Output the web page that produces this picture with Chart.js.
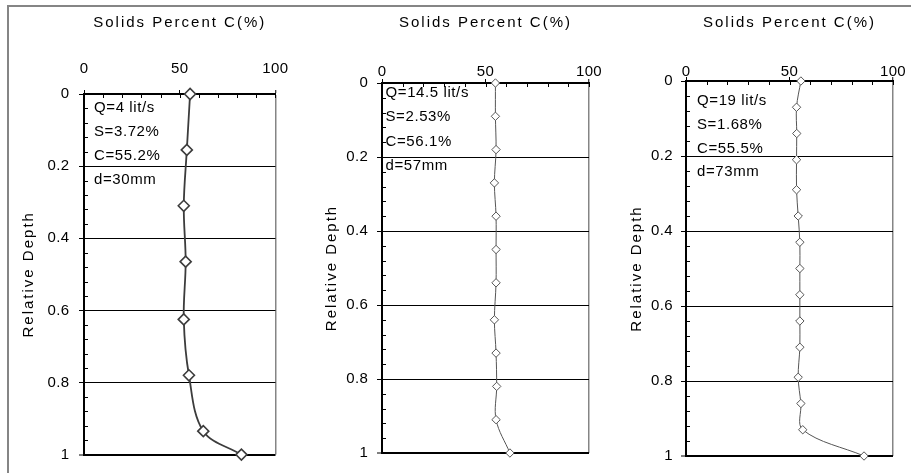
<!DOCTYPE html>
<html>
<head>
<meta charset="utf-8">
<script src="https://cdn.jsdelivr.net/npm/chart.js@4.4.0/dist/chart.umd.min.js"></script>
<style>
html,body{margin:0;padding:0;background:#fff;width:914px;height:473px;overflow:hidden;position:relative}
#frame{position:absolute;left:7px;top:5px;width:904px;height:480px;border-left:2px solid #858585;border-top:2px solid #858585;box-sizing:border-box}
canvas{position:absolute;top:0}
</style>
</head>
<body>
<div id="frame"></div>
<canvas id="c1" width="300" height="473" style="left:0px"></canvas>
<canvas id="c2" width="305" height="473" style="left:300px"></canvas>
<canvas id="c3" width="309" height="473" style="left:605px"></canvas>
<script>
// ---- data ----
const xTitle = 'Solids Percent C(%)';
const yTitle = 'Relative Depth';
const xMajorTicks = [0, 50, 100];
const yMajorTicks = [0, 0.2, 0.4, 0.6, 0.8, 1];

const depth1 = [0, 0.155, 0.31, 0.465, 0.625, 0.78, 0.935, 1.0];
const conc1  = [55.4, 53.7, 52.1, 53.1, 52.1, 54.8, 62.3, 82.2];
const notes1 = ['Q=4 lit/s', 'S=3.72%', 'C=55.2%', 'd=30mm'];

const depth2 = [0, 0.09, 0.18, 0.27, 0.36, 0.45, 0.54, 0.64, 0.73, 0.82, 0.91, 1.0];
const conc2  = [54.8, 54.8, 55.1, 54.3, 55.1, 55.1, 55.1, 54.3, 55.1, 55.4, 55.1, 61.8];
const notes2 = ['Q=14.5 lit/s', 'S=2.53%', 'C=56.1%', 'd=57mm'];

const depth3 = [0, 0.07, 0.14, 0.21, 0.29, 0.36, 0.43, 0.50, 0.57, 0.64, 0.71, 0.79, 0.86, 0.93, 1.0];
const conc3  = [55.5, 53.4, 53.5, 53.4, 53.4, 54.2, 55.0, 55.0, 55.0, 55.0, 55.0, 54.2, 55.5, 56.4, 86.0];
const notes3 = ['Q=19 lit/s', 'S=1.68%', 'C=55.5%', 'd=73mm'];

// ---- styling / helpers ----
const FONT = "'Liberation Sans', Arial, sans-serif";
const FS = 15;
Chart.defaults.font.family = FONT;
Chart.defaults.font.size = FS;
Chart.defaults.color = '#000';

const isIn = (arr, v) => arr.some(a => Math.abs(a - v) < 1e-9);

// letter spacing to mimic the wide original text
const SP = (Chart.Scale || Object.getPrototypeOf(Chart.LinearScale)).prototype;
const _drawTitle = SP.drawTitle, _drawLabels = SP.drawLabels;
SP.drawTitle = function () {
  const c = this.ctx, prev = c.letterSpacing;
  c.letterSpacing = '2px';
  _drawTitle.apply(this, arguments);
  c.letterSpacing = prev;
};
SP.drawLabels = function () {
  const c = this.ctx, prev = c.letterSpacing;
  c.letterSpacing = '0.4px';
  _drawLabels.apply(this, arguments);
  c.letterSpacing = prev;
};

const innerTicks = {
  id: 'innerTicks',
  beforeDatasetsDraw(chart) {
    const {ctx, chartArea, scales: {x, y}} = chart;
    ctx.save();
    ctx.strokeStyle = '#000';
    ctx.lineWidth = 1;
    ctx.beginPath();
    x.ticks.forEach(t => {
      const px = Math.round(x.getPixelForValue(t.value)) + 0.5;
      ctx.moveTo(px, chartArea.top);
      ctx.lineTo(px, chartArea.top + 4);
    });
    y.ticks.forEach(t => {
      const py = Math.round(y.getPixelForValue(t.value)) + 0.5;
      ctx.moveTo(chartArea.left, py);
      ctx.lineTo(chartArea.left + 4, py);
    });
    ctx.stroke();
    ctx.restore();
  }
};

const notesPlugin = {
  id: 'notes',
  afterDatasetsDraw(chart, args, opts) {
    const {ctx, chartArea} = chart;
    ctx.save();
    ctx.font = FS + 'px ' + FONT;
    ctx.fillStyle = '#000';
    ctx.letterSpacing = '0.6px';
    ctx.textBaseline = 'middle';
    ctx.textAlign = 'left';
    (opts.lines || []).forEach((t, i) => {
      ctx.fillText(t, chartArea.left + opts.dx, chartArea.top + opts.dy + i * opts.gap);
    });
    ctx.restore();
  }
};

function makePanel(id, depth, conc, notes, L) {
  const data = depth.map((d, i) => ({x: conc[i], y: d}));
  return new Chart(document.getElementById(id), {
    type: 'scatter',
    data: {
      datasets: [{
        data,
        showLine: true,
        tension: 0.35,
        borderColor: L.line,
        borderWidth: L.lw,
        backgroundColor: '#fff',
        fill: false,
        pointStyle: 'rectRot',
        pointRadius: L.pr,
        pointBorderWidth: L.pbw,
        pointBorderColor: L.line,
        pointBackgroundColor: '#fff',
        clip: false
      }]
    },
    options: {
      responsive: false,
      animation: false,
      devicePixelRatio: 1,
      events: [],
      layout: {padding: {left: 0, top: 0, right: L.R, bottom: L.B}},
      plugins: {
        legend: {display: false},
        tooltip: {enabled: false},
        notes: {lines: notes, dx: L.ndx, dy: L.ndy, gap: L.ngap}
      },
      scales: {
        x: {
          type: 'linear',
          position: 'top',
          min: 0, max: 100,
          afterFit: s => { s.height = L.T; },
          ticks: {
            stepSize: 10, autoSkip: false, maxRotation: 0, minRotation: 0,
            padding: L.xpad, color: '#000', font: {size: FS},
            callback: v => isIn(xMajorTicks, v) ? String(v) : ''
          },
          grid: {
            drawOnChartArea: true,
            color: c => (c.tick && Math.abs(c.tick.value - 100) < 1e-9) ? '#858585' : 'rgba(0,0,0,0)',
            lineWidth: c => (c.tick && Math.abs(c.tick.value - 100) < 1e-9) ? 1.5 : 1,
            drawTicks: true,
            tickLength: 4,
            tickWidth: 1,
            tickColor: c => (c.tick && isIn(xMajorTicks, c.tick.value)) ? '#000' : 'rgba(0,0,0,0)'
          },
          border: {display: true, color: '#000', width: 2},
          title: {display: true, text: xTitle, color: '#000', font: {size: FS}, padding: {top: L.xtp, bottom: 0}}
        },
        y: {
          type: 'linear',
          position: 'left',
          reverse: true,
          min: 0, max: 1,
          afterFit: s => { s.width = L.L; },
          ticks: {
            stepSize: 0.04, autoSkip: false, padding: L.ypad, color: '#000', font: {size: FS},
            callback: v => isIn(yMajorTicks, v) ? String(Math.round(v * 10) / 10) : ''
          },
          grid: {
            drawOnChartArea: true,
            color: c => (c.tick && c.tick.value > 1e-9 && isIn(yMajorTicks, c.tick.value)) ? '#000' : 'rgba(0,0,0,0)',
            lineWidth: c => (c.tick && Math.abs(c.tick.value - 1) < 1e-9) ? 2 : 1,
            drawTicks: true,
            tickLength: 5,
            tickWidth: 1,
            tickColor: c => (c.tick && isIn(yMajorTicks, c.tick.value)) ? '#000' : 'rgba(0,0,0,0)'
          },
          border: {display: true, color: '#000', width: 2},
          title: {display: true, text: yTitle, color: '#000', font: {size: FS}, padding: {top: L.ytp, bottom: 0}}
        }
      }
    },
    plugins: [innerTicks, notesPlugin]
  });
}

makePanel('c1', depth1, conc1, notes1, {
  T: 94, L: 84, R: 15, B: 12, xpad: 12, ypad: 9.4, xtp: 14, ytp: 20,
  ndx: 10, ndy: 14, ngap: 23.8, line: '#3c3c3c', lw: 1.8, pr: 5.5, pbw: 1.6
});
makePanel('c2', depth2, conc2, notes2, {
  T: 83, L: 82, R: 16, B: 20, xpad: -2, ypad: 8.7, xtp: 14, ytp: 23.2,
  ndx: 3.5, ndy: 10, ngap: 24.3, line: '#555555', lw: 1, pr: 4.2, pbw: 1
});
makePanel('c3', depth3, conc3, notes3, {
  T: 81, L: 81, R: 21, B: 12, xpad: -4.2, ypad: 8, xtp: 14, ytp: 22.5,
  ndx: 11, ndy: 20, ngap: 23.7, line: '#555555', lw: 1, pr: 4.2, pbw: 1
});
</script>
</body>
</html>
